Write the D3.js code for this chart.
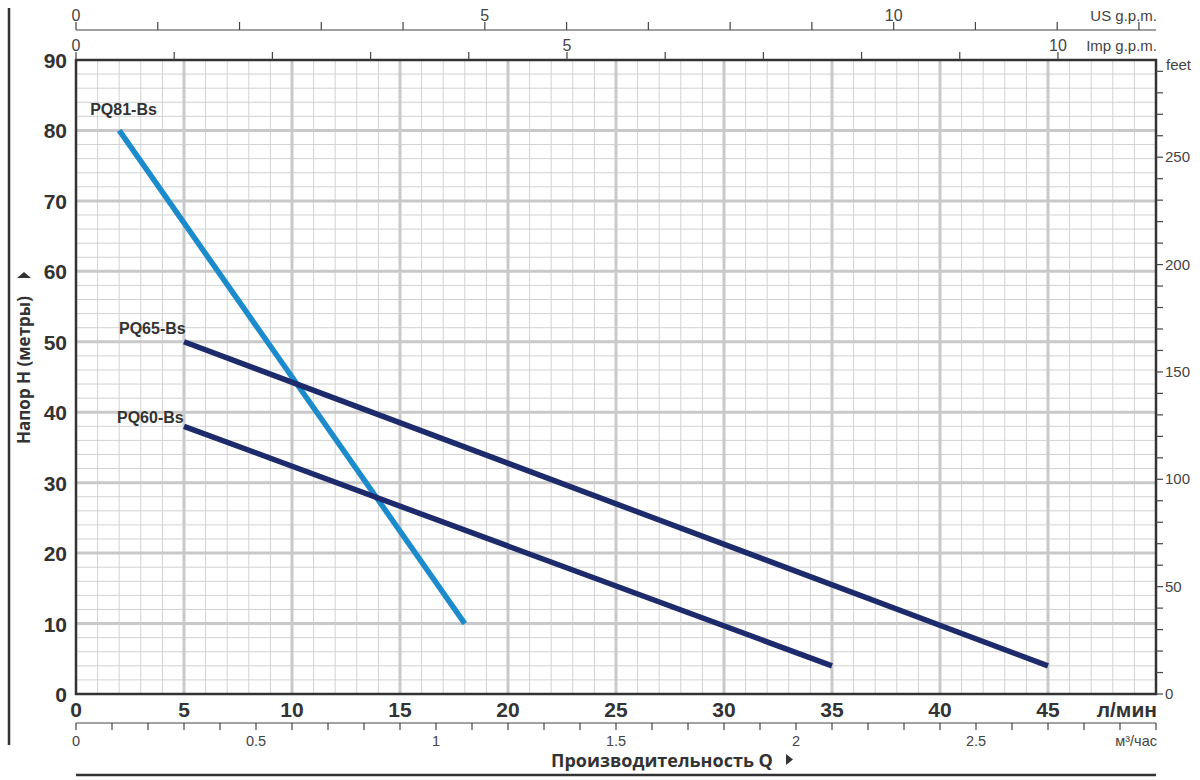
<!DOCTYPE html>
<html>
<head>
<meta charset="utf-8">
<script src="https://cdn.jsdelivr.net/npm/d3@7"></script>
<style>
  html, body { margin: 0; padding: 0; background: #fff; }
  svg { display: block; }
</style>
</head>
<body>
<svg id="chart" width="1200" height="780"></svg>
<script>
// ---- data ----
const seriesNames = ["PQ81-Bs", "PQ65-Bs", "PQ60-Bs"];
const seriesFlow = [[2, 18], [5, 45], [5, 35]];      // л/мин
const seriesHead = [[80, 10], [50, 4], [38, 4]];     // метры
const seriesColors = ["#1b8bcb", "#1d2b6c", "#1d2b6c"];
const flowTicks = [0, 5, 10, 15, 20, 25, 30, 35, 40, 45];
const headTicks = [0, 10, 20, 30, 40, 50, 60, 70, 80, 90];
const feetTicks = [0, 50, 100, 150, 200, 250];
const m3Ticks = [0, 0.5, 1, 1.5, 2, 2.5];
const usTicks = [0, 5, 10];
const impTicks = [0, 5, 10];

const LPM_PER_US = 3.78541, LPM_PER_IMP = 4.54609, M_PER_FT = 0.3048, LPM_PER_M3H = 1000 / 60;

const svg = d3.select("#chart");
const L = 76, R = 1156, T = 60, B = 694;
const x = d3.scaleLinear().domain([0, 50]).range([L, R]);
const y = d3.scaleLinear().domain([0, 90]).range([B, T]);

const narrow = "'Liberation Sans Narrow', 'Arial Narrow', 'Liberation Sans', Arial, sans-serif";
const plain = "'Liberation Sans', Arial, sans-serif";

// grid minor
const g = svg.append("g");
g.selectAll("line.vx").data(d3.range(1, 50).filter(v => v % 5)).join("line")
  .attr("x1", d => x(d)).attr("x2", d => x(d)).attr("y1", T).attr("y2", B)
  .attr("stroke", "#d2d2d2").attr("stroke-width", 1);
g.selectAll("line.hy").data(d3.range(2, 90, 2).filter(v => v % 10)).join("line")
  .attr("y1", d => y(d)).attr("y2", d => y(d)).attr("x1", L).attr("x2", R)
  .attr("stroke", "#d2d2d2").attr("stroke-width", 1);
// grid major
g.selectAll("line.vmx").data(d3.range(5, 50, 5)).join("line")
  .attr("x1", d => x(d)).attr("x2", d => x(d)).attr("y1", T).attr("y2", B)
  .attr("stroke", "#c9c9c9").attr("stroke-width", 3);
g.selectAll("line.hmx").data(d3.range(10, 90, 10)).join("line")
  .attr("y1", d => y(d)).attr("y2", d => y(d)).attr("x1", L).attr("x2", R)
  .attr("stroke", "#c9c9c9").attr("stroke-width", 3);

// frame
svg.append("rect").attr("x", L).attr("y", T).attr("width", R - L).attr("height", B - T)
  .attr("fill", "none").attr("stroke", "#333").attr("stroke-width", 2.5);

// series (blue first, navy on top)
const lineGen = d3.line().x(d => x(d[0])).y(d => y(d[1]));
[0, 1, 2].forEach(i => {
  const pts = seriesFlow[i].map((f, k) => [f, seriesHead[i][k]]);
  svg.append("path").attr("d", lineGen(pts)).attr("fill", "none")
    .attr("stroke", seriesColors[i]).attr("stroke-width", 5.5);
});
// series labels
const labelPos = [[-29, -15], [-65, -8], [-67, -3]];
seriesNames.forEach((n, i) => {
  svg.append("text").attr("x", x(seriesFlow[i][0]) + labelPos[i][0]).attr("y", y(seriesHead[i][0]) + labelPos[i][1])
    .attr("font-family", narrow).attr("font-weight", "bold").attr("font-size", 16)
    .attr("fill", "#333").text(n);
});

// left axis labels
svg.selectAll("text.yl").data(headTicks).join("text")
  .attr("x", 67).attr("y", d => y(d) + 8).attr("text-anchor", "end")
  .attr("font-family", narrow).attr("font-weight", "bold").attr("font-size", 21)
  .attr("fill", "#333").text(d => d);

// bottom l/min labels
svg.selectAll("text.xl").data(flowTicks).join("text")
  .attr("x", d => x(d)).attr("y", 717).attr("text-anchor", "middle")
  .attr("font-family", narrow).attr("font-weight", "bold").attr("font-size", 21)
  .attr("fill", "#333").text(d => d);
svg.append("text").attr("x", R + 1).attr("y", 717).attr("text-anchor", "end")
  .attr("font-family", narrow).attr("font-weight", "bold").attr("font-size", 21)
  .attr("fill", "#333").text("л/мин");

// m3/h axis
const xm = d3.scaleLinear().domain([0, 3]).range([x(0), x(3 * LPM_PER_M3H)]);
const mY = 723;
svg.append("line").attr("x1", L).attr("x2", R).attr("y1", mY).attr("y2", mY).attr("stroke", "#444").attr("stroke-width", 1.2);
svg.selectAll("line.mt").data(d3.range(0, 31)).join("line")
  .attr("x1", d => xm(d / 10)).attr("x2", d => xm(d / 10)).attr("y1", mY).attr("y2", mY + 7)
  .attr("stroke", "#444").attr("stroke-width", 1.2);
svg.selectAll("text.ml").data(m3Ticks).join("text")
  .attr("x", d => xm(d)).attr("y", 746).attr("text-anchor", "middle")
  .attr("font-family", narrow).attr("font-size", 14.5).attr("fill", "#444").text(d => d);
svg.append("text").attr("x", R + 1).attr("y", 746).attr("text-anchor", "end")
  .attr("font-family", narrow).attr("font-size", 14.5).attr("fill", "#444").text("м³/час");

// bottom title
svg.append("text").attr("x", 662).attr("y", 767).attr("text-anchor", "middle")
  .attr("font-family", "'Open Sans', sans-serif").attr("font-weight", "bold").attr("font-size", 18)
  .attr("fill", "#333").text("Производительность Q");
svg.append("path").attr("d", "M786,754 L793,759.5 L786,765 Z").attr("fill", "#333");
svg.append("line").attr("x1", L).attr("x2", R).attr("y1", 775).attr("y2", 775).attr("stroke", "#333").attr("stroke-width", 2.5);

// left rule & y title
svg.append("line").attr("x1", 9).attr("x2", 9).attr("y1", 8).attr("y2", 745).attr("stroke", "#333").attr("stroke-width", 2.5);
const yt = svg.append("g").attr("transform", "translate(30,370) rotate(-90)");
yt.append("text").attr("x", 0).attr("y", 0).attr("text-anchor", "middle")
  .attr("font-family", "'Open Sans', sans-serif").attr("font-weight", "bold").attr("font-size", 17)
  .attr("fill", "#333").text("Напор  H (метры)");
yt.append("path").attr("d", "M92,-13 L98,-6 L92,1 Z").attr("fill", "#333");

// right feet axis
svg.selectAll("line.ft").data(d3.range(0, 300, 10)).join("line")
  .attr("x1", R).attr("x2", R + 7).attr("y1", d => y(d * M_PER_FT)).attr("y2", d => y(d * M_PER_FT))
  .attr("stroke", "#444").attr("stroke-width", 1.2);
svg.selectAll("text.fl").data(feetTicks).join("text")
  .attr("x", R + 9).attr("y", d => y(d * M_PER_FT) + 5).attr("font-family", narrow)
  .attr("font-size", 15).attr("fill", "#444").text(d => d);
svg.append("text").attr("x", R + 10).attr("y", 70).attr("font-family", narrow)
  .attr("font-size", 15).attr("fill", "#444").text("feet");

// top Imp g.p.m. axis (on frame top)
svg.selectAll("line.it").data(d3.range(0, 11)).join("line")
  .attr("x1", d => x(d * LPM_PER_IMP)).attr("x2", d => x(d * LPM_PER_IMP)).attr("y1", T).attr("y2", T - 8)
  .attr("stroke", "#444").attr("stroke-width", 1.2);
svg.selectAll("text.il").data(impTicks).join("text")
  .attr("x", d => x(d * LPM_PER_IMP)).attr("y", 51).attr("text-anchor", "middle")
  .attr("font-family", narrow).attr("font-size", 16).attr("fill", "#444").text(d => d);
svg.append("text").attr("x", R + 1).attr("y", 51).attr("text-anchor", "end")
  .attr("font-family", narrow).attr("font-size", 15).attr("fill", "#444").text("Imp g.p.m.");

// top US g.p.m. axis
const uY = 30;
svg.append("line").attr("x1", L).attr("x2", R).attr("y1", uY).attr("y2", uY).attr("stroke", "#444").attr("stroke-width", 1.2);
svg.selectAll("line.ut").data(d3.range(0, 14)).join("line")
  .attr("x1", d => x(d * LPM_PER_US)).attr("x2", d => x(d * LPM_PER_US)).attr("y1", uY).attr("y2", uY - 8)
  .attr("stroke", "#444").attr("stroke-width", 1.2);
svg.selectAll("text.ul").data(usTicks).join("text")
  .attr("x", d => x(d * LPM_PER_US)).attr("y", 21).attr("text-anchor", "middle")
  .attr("font-family", narrow).attr("font-size", 16).attr("fill", "#444").text(d => d);
svg.append("text").attr("x", R + 1).attr("y", 21).attr("text-anchor", "end")
  .attr("font-family", narrow).attr("font-size", 15).attr("fill", "#444").text("US g.p.m.");
</script>
</body>
</html>
